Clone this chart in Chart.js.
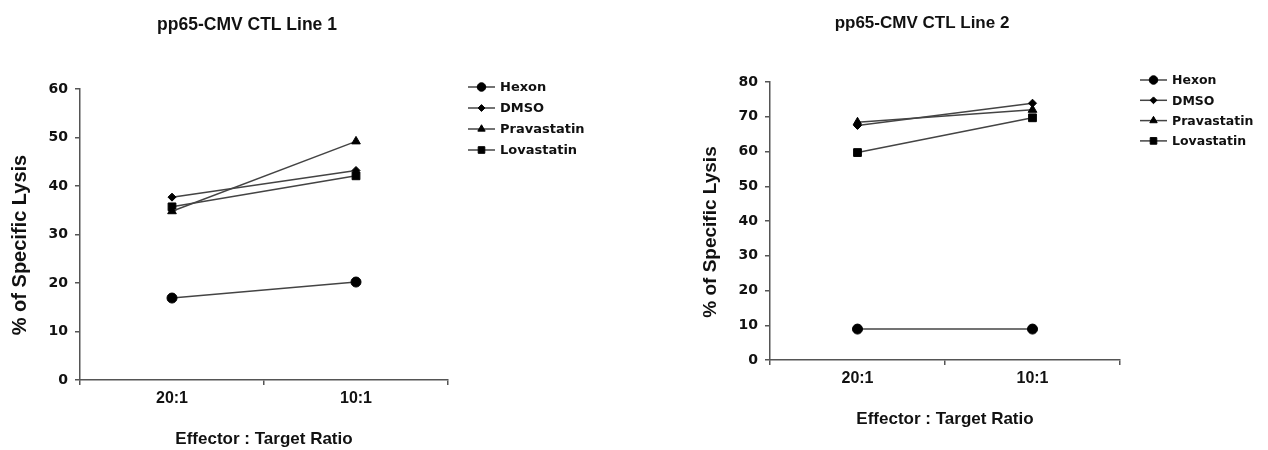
<!DOCTYPE html>
<html>
<head>
<meta charset="utf-8">
<title>pp65-CMV CTL lysis</title>
<script src="https://cdn.jsdelivr.net/npm/chart.js@4.4.1/dist/chart.umd.min.js"></script>
<style>
  html, body { margin: 0; padding: 0; background: #fff; }
  #wrap { position: relative; width: 1268px; height: 450px; }
  canvas { position: absolute; top: 0; }
  #line1 { left: 0; }
  #line2 { left: 634px; }
</style>
</head>
<body>
<div id="wrap">
  <canvas id="line1" width="634" height="450"></canvas>
  <canvas id="line2" width="634" height="450"></canvas>
</div>
<script>
// data
const categories = ['20:1', '10:1']
const seriesNames = ['Hexon', 'DMSO', 'Pravastatin', 'Lovastatin']

const line1Hexon = [16.9, 20.2]
const line1Dmso = [37.7, 43.2]
const line1Prava = [34.8, 49.2]
const line1Lova = [35.7, 42.1]
const line1Ticks = [0, 10, 20, 30, 40, 50, 60]

const line2Hexon = [8.9, 8.9]
const line2Dmso = [67.5, 73.9]
const line2Prava = [68.4, 72.0]
const line2Lova = [59.7, 69.7]
const line2Ticks = [0, 10, 20, 30, 40, 50, 60, 70, 80]

const ink = '#111'
const lineColor = '#444'
const axisColor = '#555'
const markers = [
  { style: 'circle', radius: 5 },
  { style: 'rectRot', radius: 4 },
  { style: 'triangle', radius: 5 },
  { style: 'rect', radius: 5.5 },
]

// chart title, y title and legend (line with marker), placed like the original figure
const decorPlugin = {
  id: 'decor',
  afterDraw(chart, args, opts) {
    const ctx = chart.ctx
    ctx.save()
    ctx.fillStyle = ink
    ctx.textAlign = 'center'
    ctx.textBaseline = 'middle'
    ctx.font = opts.titleFont
    ctx.fillText(opts.title, opts.titleX, opts.titleY)

    ctx.save()
    ctx.translate(opts.yTitleX, opts.yTitleY)
    ctx.rotate(-Math.PI / 2)
    ctx.font = opts.yTitleFont
    ctx.fillText('% of Specific Lysis', 0, 0)
    ctx.restore()

    ctx.font = opts.legendFont
    ctx.textAlign = 'left'
    chart.data.datasets.forEach((ds, i) => {
      const y = opts.legendY + i * opts.legendGap
      ctx.strokeStyle = ds.borderColor
      ctx.lineWidth = ds.borderWidth
      ctx.beginPath()
      ctx.moveTo(opts.legendX, y)
      ctx.lineTo(opts.legendX + 27, y)
      ctx.stroke()
      ctx.fillStyle = '#000'
      ctx.strokeStyle = '#000'
      ctx.lineWidth = 1
      Chart.helpers.drawPoint(ctx, { pointStyle: ds.pointStyle, radius: ds.pointRadius * 0.85, borderWidth: 1, rotation: 0 }, opts.legendX + 13.5, y)
      ctx.fillStyle = ink
      ctx.fillText(ds.label, opts.legendX + 32, y + 1)
    })
    ctx.restore()
  }
}

function makeDatasets(values) {
  return values.map((data, i) => ({
    label: seriesNames[i],
    data,
    borderColor: lineColor,
    borderWidth: 1.5,
    pointStyle: markers[i].style,
    pointRadius: markers[i].radius,
    pointBackgroundColor: '#000',
    pointBorderColor: '#000',
    pointBorderWidth: 1,
    tension: 0,
  }))
}

function makeChart(id, values, ticks, o) {
  return new Chart(document.getElementById(id), {
    type: 'line',
    data: { labels: categories, datasets: makeDatasets(values) },
    options: {
      responsive: false,
      animation: false,
      layout: { padding: o.padding },
      plugins: {
        legend: { display: false },
        tooltip: { enabled: false },
        decor: o.decor,
      },
      scales: {
        x: {
          offset: true,
          grid: { offset: true, drawOnChartArea: false, drawTicks: true, tickLength: 5, color: axisColor, lineWidth: 1.5 },
          border: { color: axisColor, width: 1.5 },
          ticks: { color: ink, padding: 4, font: { family: 'Liberation Sans', weight: 'bold', size: 16 } },
          title: {
            display: true,
            text: 'Effector : Target Ratio',
            color: ink,
            font: { family: 'Liberation Sans', weight: 'bold', size: 17 },
            padding: { top: 0, bottom: 0 },
          },
          afterFit(scale) { scale.height = 70 },
        },
        y: {
          min: ticks[0],
          max: ticks[ticks.length - 1],
          afterBuildTicks(scale) { scale.ticks = ticks.map(v => ({ value: v })) },
          grid: { drawOnChartArea: false, drawTicks: true, tickLength: 5, color: axisColor, lineWidth: 1.5 },
          border: { color: axisColor, width: 1.5 },
          ticks: { color: ink, padding: 7, font: { family: 'DejaVu Sans', weight: 'bold', size: 14 } },
          afterFit(scale) { scale.width = 80 },
        },
      },
    },
    plugins: [decorPlugin],
  })
}

makeChart('line1', [line1Hexon, line1Dmso, line1Prava, line1Lova], line1Ticks, {
  padding: { left: 0, right: 186, top: 89, bottom: 0 },
  decor: {
    title: 'pp65-CMV CTL Line 1',
    titleFont: 'bold 17.5px "Liberation Sans"',
    titleX: 247, titleY: 25,
    yTitleFont: 'bold 20px "Liberation Sans"',
    yTitleX: 20, yTitleY: 245,
    legendFont: 'bold 13px "DejaVu Sans"',
    legendX: 468, legendY: 87, legendGap: 21,
  },
})

makeChart('line2', [line2Hexon, line2Dmso, line2Prava, line2Lova], line2Ticks, {
  padding: { left: 56, right: 148, top: 82, bottom: 20 },
  decor: {
    title: 'pp65-CMV CTL Line 2',
    titleFont: 'bold 17px "Liberation Sans"',
    titleX: 288, titleY: 23,
    yTitleFont: 'bold 19px "Liberation Sans"',
    yTitleX: 77, yTitleY: 232,
    legendFont: 'bold 12.5px "DejaVu Sans"',
    legendX: 506, legendY: 80, legendGap: 20.3,
  },
})
</script>
</body>
</html>
